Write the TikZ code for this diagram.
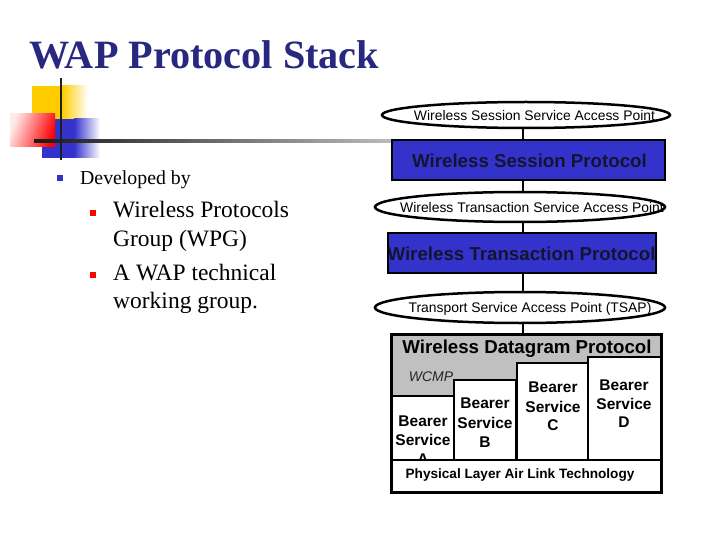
\documentclass[tikz,border=0pt]{standalone}
\usepackage{fontspec}
\setmainfont{Liberation Serif}
\setsansfont{Liberation Sans}
\usetikzlibrary{shapes.geometric}
\pgfdeclarelayer{paper}
\pgfdeclarelayer{back}
\pgfsetlayers{paper,back,main}
\definecolor{navy}{RGB}{40,40,128}
\definecolor{wblue}{RGB}{51,51,204}
\definecolor{wyellow}{RGB}{255,204,0}
\definecolor{wgray}{RGB}{192,192,192}
\definecolor{darktxt}{RGB}{20,20,50}
\tikzset{
  ell/.style={ellipse, draw=black, line width=2.5pt, fill=white, inner sep=0pt},
  elltext/.style={inner sep=0pt, font=\sffamily\fontsize{13.9}{16}\selectfont},
  protobox/.style={draw=black, line width=2pt, fill=wblue, inner sep=0pt, minimum height=40pt},
  prototext/.style={inner sep=0pt, text=darktxt, font=\sffamily\bfseries\fontsize{18.7}{22}\selectfont},
  bearerbox/.style={draw=black, line width=2pt, fill=white},
  bearertext/.style={inner sep=0pt, anchor=base, font=\sffamily\bfseries\fontsize{15.5}{19}\selectfont},
  conn/.style={draw=black, line width=2.5pt},
  bodytext/.style={inner sep=0pt, anchor=base west},
}
\begin{document}
\begin{tikzpicture}[x=1pt,y=-1pt]
\begin{pgfonlayer}{paper}
\fill[white] (0,0) rectangle (720,540);
\end{pgfonlayer}
\useasboundingbox (0,0) rectangle (720,540);

% title
\node[inner sep=0pt, anchor=base west, text=navy, font=\bfseries\fontsize{40.2}{44}\selectfont] (title) at (29,69) {WAP Protocol Stack};

% decoration
\fill[wyellow] (32,86) rectangle (62,119);
\shade[left color=wyellow, right color=white] (62,86) rectangle (88,119);
\fill[wblue] (42,119) rectangle (74,158);
\shade[left color=wblue, right color=white] (74,119) rectangle (100,158);
\shade[left color=red!8, right color=red, shading angle=70] (10,114) rectangle (55,147);
\shade[left color=black!90, right color=black!25] (34,139.8) rectangle (400,142.4);
\draw[line width=2.5pt, black!88] (61,78) -- (61,160);

% bullets
\fill[wblue] (57,175) rectangle (63,181);
\node[bodytext, font=\fontsize{19.8}{23}\selectfont] (dev) at (80,185) {Developed by};
\fill[red] (90,210) rectangle (96,216);
\fill[red] (90,272) rectangle (96,278);
\node[bodytext, font=\fontsize{23.5}{29}\selectfont] (wpg1) at (113,218) {Wireless Protocols};
\node[bodytext, font=\fontsize{23.5}{29}\selectfont] (wpg2) at (113,247) {Group (WPG)};
\node[bodytext, font=\fontsize{23.5}{29}\selectfont] (wap1) at (113,280) {A WAP technical};
\node[bodytext, font=\fontsize{23.5}{29}\selectfont] (wap2) at (113,308) {working group.};

% stack
\node[ell, minimum width=288pt, minimum height=26pt] (e1) at (526,115) {};
\node[elltext] (t1) at (534.5,116) {Wireless Session Service Access Point};
\node[protobox, minimum width=273pt] (wsp) at (528.5,160) {};
\node[prototext] (wspt) at (529.5,161) {Wireless Session Protocol};
\node[ell, minimum width=290pt, minimum height=30pt] (e2) at (520,207) {};
\node[elltext] (t2) at (532,207.5) {Wireless Transaction Service Access Point};
\node[protobox, minimum width=268pt] (wtp) at (522,253) {};
\node[prototext] (wtpt) at (521.5,254) {Wireless Transaction Protocol};
\node[ell, minimum width=290pt, minimum height=31pt] (e3) at (520,307.5) {};
\node[elltext] (t3) at (530,309) {Transport Service Access Point (TSAP)};

% WDP block
\node[draw=black, line width=2pt, fill=wgray, minimum width=269pt, minimum height=125pt, inner sep=0pt] (wdp) at (526.5,397.5) {};
\node[prototext, text=black] (wdpt) at (527,348.5) {Wireless Datagram Protocol};
\node[inner sep=0pt, text=black!85, font=\sffamily\itshape\fontsize{14}{16}\selectfont] (wcmp) at (431,377) {WCMP};

\draw[bearerbox] (392,396) rectangle (454,460);
\draw[bearerbox] (454,380) rectangle (516,460);
\draw[bearerbox] (517,363) rectangle (588,460);
\draw[bearerbox] (588,357) rectangle (661,460);

\node[bearertext] (ba1) at (423,426) {Bearer};
\node[bearertext] (ba2) at (423,445) {Service};
\node[bearertext] (ba3) at (423,464) {A};
\node[bearertext] (bb1) at (485,408) {Bearer};
\node[bearertext] (bb2) at (485,428) {Service};
\node[bearertext] (bb3) at (485,447) {B};
\node[bearertext] (bc1) at (553,392) {Bearer};
\node[bearertext] (bc2) at (553,412) {Service};
\node[bearertext] (bc3) at (553,430) {C};
\node[bearertext] (bd1) at (624,390) {Bearer};
\node[bearertext] (bd2) at (624,409) {Service};
\node[bearertext] (bd3) at (624,427) {D};

\node[bearerbox, line width=2pt, minimum width=269pt, minimum height=32pt, inner sep=0pt] (phys) at (526.5,476) {};
\node[inner sep=0pt, font=\sffamily\bfseries\fontsize{13.6}{16}\selectfont] (physt) at (520,475.5) {Physical Layer Air Link Technology};
\draw[black, line width=2pt] (wdp.north west) rectangle (phys.south east);

% connectors (behind the shapes)
\begin{pgfonlayer}{back}
\draw[conn] (e1.center -| 523,0) -- (wsp.center -| 523,0);
\draw[conn] (wsp.center -| 523,0) -- (e2.center -| 523,0);
\draw[conn] (e2.center -| 523,0) -- (wtp.center -| 523,0);
\draw[conn] (wtp.center -| 523,0) -- (e3.center -| 523,0);
\draw[conn] (e3.center -| 523,0) -- (wdp.center -| 523,0);
\end{pgfonlayer}
\end{tikzpicture}
\end{document}
